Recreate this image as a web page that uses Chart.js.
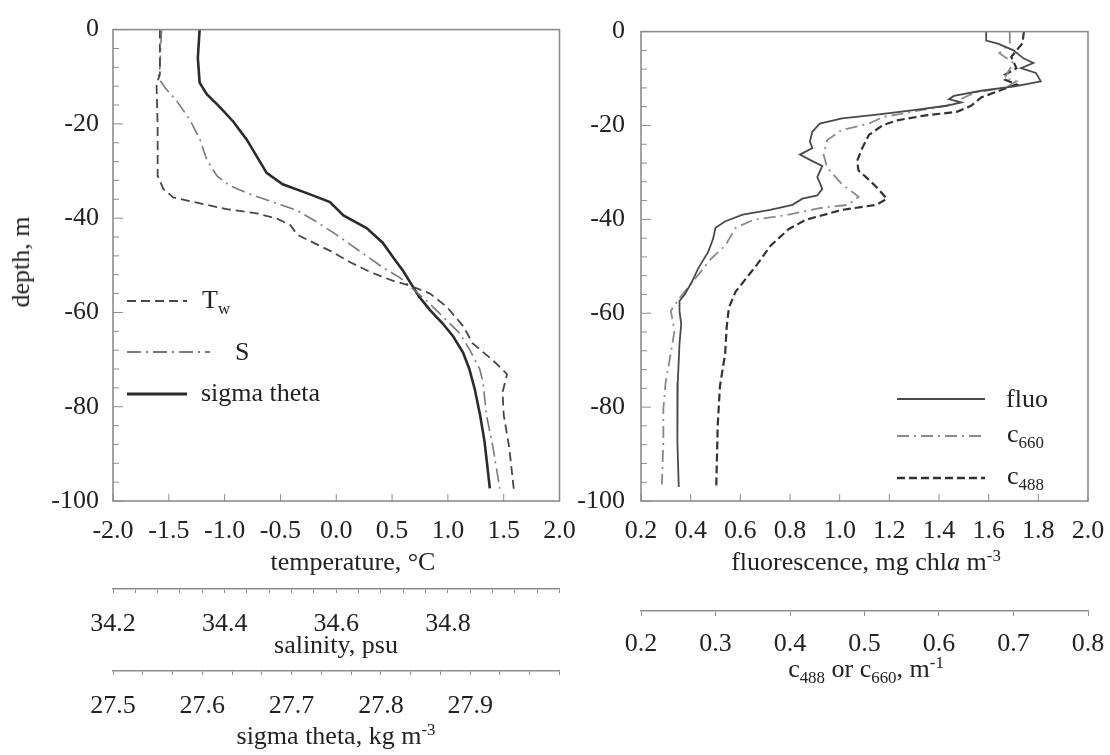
<!DOCTYPE html>
<html>
<head>
<meta charset="utf-8">
<script src="https://cdn.jsdelivr.net/npm/chart.js@4.4.1/dist/chart.umd.min.js"></script>
<style>
  html, body { margin: 0; padding: 0; background: #fff; }
  #wrap { position: relative; width: 1110px; height: 755px; overflow: hidden; }
  canvas { position: absolute; top: 0; }
  #left { left: 0; }
  #right { left: 560px; }
  .lbl { position: absolute; font: 26px 'Liberation Serif', 'Times New Roman', serif; color: #222;
         line-height: 26px; white-space: nowrap; transform: translateY(-50%); }
  .c { transform: translate(-50%, -50%); }
  .v { transform: translate(-50%, -50%) rotate(-90deg); }
  .lbl sub { font-size: 0.65em; vertical-align: -0.35em; line-height: 0; }
  .lbl sup { font-size: 0.65em; vertical-align: 0.55em; line-height: 0; }
</style>
</head>
<body>
<div id="wrap">
  <canvas id="left" width="600" height="755"></canvas>
  <canvas id="right" width="620" height="755"></canvas>

  <div class="lbl v" style="left:21px; top:262px;">depth, m</div>

  <div class="lbl c" style="left:353px; top:562px;">temperature, °C</div>
  <div class="lbl c" style="left:336px; top:645px;">salinity, psu</div>
  <div class="lbl c" style="left:336px; top:736px;">sigma theta, kg m<sup>-3</sup></div>
  <div class="lbl c" style="left:866px; top:562px;">fluorescence, mg chl<i>a</i> m<sup>-3</sup></div>
  <div class="lbl c" style="left:866px; top:669px;">c<sub>488</sub> or c<sub>660</sub>, m<sup>-1</sup></div>

  <div class="lbl" style="left:202px; top:300px;">T<sub>w</sub></div>
  <div class="lbl" style="left:235px; top:352px;">S</div>
  <div class="lbl" style="left:201px; top:393px;">sigma theta</div>

  <div class="lbl" style="left:1006px; top:399px;">fluo</div>
  <div class="lbl" style="left:1007px; top:434px;">c<sub>660</sub></div>
  <div class="lbl" style="left:1007px; top:476px;">c<sub>488</sub></div>
</div>
<script>
const FONT = "'Liberation Serif', 'Times New Roman', serif";
const INK = '#222222';
const FRAME = '#8c8c8c';

// tick labels
const depthTicks = [-100, -80, -60, -40, -20, 0];
const tempTicks = [-2.0, -1.5, -1.0, -0.5, 0.0, 0.5, 1.0, 1.5, 2.0];
const salLabels = [34.2, 34.4, 34.6, 34.8];
const sigLabels = [27.5, 27.6, 27.7, 27.8, 27.9];
const fluoTicks = [0.2, 0.4, 0.6, 0.8, 1.0, 1.2, 1.4, 1.6, 1.8, 2.0];
const cTicks = [0.2, 0.3, 0.4, 0.5, 0.6, 0.7, 0.8];

// left panel: water temperature (degC)
const twDepth = [0, -9.5, -11.6, -20.6, -31, -33.8, -35.6, -36.7, -38.1, -39.0, -40.1, -41.5, -43.5, -44.9,
  -47.0, -49.4, -51.5, -53.3, -54.3, -56.0, -58.8, -63.0, -66.5, -70.3, -73.1, -76.9, -81.7, -88.7, -97.4];
const twTemp = [-1.58, -1.58, -1.61, -1.60, -1.60, -1.55, -1.46, -1.25, -0.98, -0.71, -0.53, -0.41, -0.35, -0.23,
  -0.05, 0.13, 0.31, 0.51, 0.66, 0.84, 0.99, 1.14, 1.22, 1.41, 1.53, 1.49, 1.50, 1.55, 1.59];

// salinity (psu)
const salDepth = [0, -8.1, -10.2, -12.3, -15.1, -19.2, -23.4, -27.6, -31.0, -33.1, -34.9, -36.6, -38.3, -40.8,
  -43.5, -47.0, -50.5, -52.6, -55.7, -58.1, -60.9, -64.4, -67.9, -72.0, -74.8, -81.7, -88.7, -97.4];
const salValue = [34.287, 34.284, 34.281, 34.293, 34.314, 34.338, 34.356, 34.368, 34.386, 34.409, 34.445, 34.487,
  34.529, 34.565, 34.600, 34.642, 34.684, 34.714, 34.744, 34.767, 34.791, 34.821, 34.839, 34.857, 34.863,
  34.869, 34.881, 34.893];

// sigma theta (kg m-3)
const sigDepth = [0, -6, -11.25, -13.7, -16.5, -19.6, -23.4, -26.9, -30.4, -32.8, -34.9, -36.6, -39.4, -42.1,
  -45.2, -48.4, -51.2, -54.0, -56.7, -59.5, -62.3, -65.1, -68.5, -72.0, -76.2, -81.7, -87.3, -97.3];
const sigValue = [27.597, 27.595, 27.597, 27.605, 27.620, 27.635, 27.650, 27.661, 27.672, 27.690, 27.720, 27.743,
  27.758, 27.784, 27.802, 27.814, 27.825, 27.834, 27.843, 27.855, 27.869, 27.881, 27.892, 27.899, 27.905,
  27.911, 27.916, 27.922];

// right panel: fluorescence (mg chla m-3)
const fluoDepth = [0, -1.9, -2.6, -4.0, -5.7, -6.7, -7.8, -8.8, -10.6, -11.6, -12.6, -13.7, -14.4, -15.1, -15.8,
  -16.8, -17.7, -18.5, -19.6, -21.3, -23.4, -24.8, -26.2, -27.6, -28.6, -31.0, -33.5, -34.9, -35.6, -36.9,
  -38.0, -39.0, -40.4, -41.8, -44.2, -47.0, -50.5, -53.3, -56.0, -57.4, -59.5, -62.3, -66.5, -74.8, -80.4,
  -87.3, -97.0];
const fluoValue = [1.59, 1.59, 1.64, 1.70, 1.74, 1.78, 1.73, 1.79, 1.81, 1.71, 1.57, 1.46, 1.44, 1.49, 1.43,
  1.29, 1.15, 1.01, 0.92, 0.89, 0.88, 0.89, 0.84, 0.89, 0.93, 0.91, 0.93, 0.91, 0.85, 0.81,
  0.72, 0.61, 0.54, 0.50, 0.49, 0.47, 0.43, 0.405, 0.376, 0.355, 0.355, 0.362, 0.355, 0.348, 0.348,
  0.345, 0.352];

// beam attenuation c660 (m-1)
const c660Depth = [0, -2.5, -4.6, -6.7, -8.5, -9.9, -10.6, -11.9, -13.0, -14.4, -15.8, -17.1, -18.2, -19.6,
  -21.0, -23.1, -26.2, -29.0, -32.4, -35.2, -36.9, -37.6, -39.0, -40.1, -41.8, -45.6, -48.4, -51.2, -54.0,
  -56.7, -59.5, -63.7, -68.5, -74.8, -80.4, -87.3, -96.5];
const c660Value = [0.695, 0.695, 0.681, 0.700, 0.693, 0.688, 0.704, 0.690, 0.648, 0.629, 0.610, 0.563, 0.525,
  0.506, 0.469, 0.450, 0.445, 0.450, 0.469, 0.492, 0.478, 0.440, 0.398, 0.351, 0.327, 0.313, 0.294, 0.280,
  0.266, 0.252, 0.240, 0.245, 0.240, 0.233, 0.230, 0.230, 0.228];

// beam attenuation c488 (m-1)
const c488Depth = [0, -2.5, -5.35, -7.8, -9.2, -10.2, -11.25, -12.3, -14.0, -15.8, -17.1, -17.85, -18.9, -19.9,
  -22.0, -24.8, -27.6, -29.6, -31.0, -33.1, -35.6, -36.9, -38.0, -40.1, -42.1, -45.6, -49.8, -52.6, -55.4,
  -58.8, -63.0, -68.5, -75.5, -83.8, -97.0];
const c488Value = [0.714, 0.712, 0.697, 0.704, 0.688, 0.688, 0.704, 0.686, 0.657, 0.643, 0.624, 0.582, 0.544,
  0.525, 0.506, 0.497, 0.490, 0.492, 0.502, 0.516, 0.530, 0.516, 0.469, 0.421, 0.398, 0.374, 0.355, 0.341,
  0.327, 0.318, 0.315, 0.313, 0.306, 0.303, 0.301];

function pairs(xs, ys) {
  return xs.map((v, i) => ({ x: v, y: ys[i] }));
}

function setTicks(values) {
  return scale => { scale.ticks = values.map(v => ({ value: v })); };
}

function minorRange(from, step, count) {
  return Array.from({ length: count }, (_, i) => from + i * step);
}

function labelIf(list) {
  return v => {
    const hit = list.find(l => Math.abs(l - v) < 1e-6);
    return hit === undefined ? '' : hit.toFixed(1);
  };
}

const tickFont = { family: FONT, size: 26 };

// frame around the plot and tick marks pointing inwards
const frameTicks = {
  id: 'frameTicks',
  afterDraw(chart, args, opts) {
    const { ctx, chartArea: a, scales } = chart;
    ctx.save();
    ctx.strokeStyle = FRAME;
    ctx.lineWidth = 1;
    ctx.beginPath();
    for (let d = -100; d <= 0; d += 4) {
      const py = scales.y.getPixelForValue(d);
      const len = d % 20 === 0 ? 10 : 6;
      ctx.moveTo(a.left, py);
      ctx.lineTo(a.left + len, py);
    }
    opts.xTicks.forEach(v => {
      const px = scales.x.getPixelForValue(v);
      ctx.moveTo(px, a.bottom);
      ctx.lineTo(px, a.bottom - 7);
    });
    ctx.stroke();
    ctx.lineWidth = 1.6;
    ctx.strokeRect(a.left, a.top, a.width, a.height);
    ctx.restore();
  }
};

// line samples for the legends, styled like their datasets
const legendLines = {
  id: 'legendLines',
  afterDraw(chart, args, opts) {
    const ctx = chart.ctx;
    opts.items.forEach(it => {
      const ds = chart.data.datasets[it.ds];
      ctx.save();
      ctx.strokeStyle = ds.borderColor;
      ctx.lineWidth = ds.borderWidth + 0.4;
      ctx.setLineDash(ds.borderDash || []);
      ctx.beginPath();
      ctx.moveTo(it.x0, it.y);
      ctx.lineTo(it.x1, it.y);
      ctx.stroke();
      ctx.restore();
    });
  }
};

function mainX(min, max, ticks, height) {
  return {
    type: 'linear', position: 'bottom', weight: 0, min, max,
    afterBuildTicks: setTicks(ticks),
    afterFit: s => { s.height = height; },
    grid: { display: false, drawTicks: false, tickLength: 0 },
    border: { display: false },
    ticks: { font: tickFont, color: INK, padding: 15, autoSkip: false, maxRotation: 0, minRotation: 0,
      callback: v => v.toFixed(1) }
  };
}

function extraX(min, max, ticks, labels, weight, height, tickLength, padding) {
  return {
    type: 'linear', position: 'bottom', weight, min, max,
    afterBuildTicks: setTicks(ticks),
    afterFit: s => { s.height = height; },
    grid: { display: true, drawOnChartArea: false, drawTicks: true, tickLength, color: FRAME, lineWidth: 1 },
    border: { display: true, color: FRAME, width: 1.6 },
    ticks: { font: tickFont, color: INK, padding, autoSkip: false, maxRotation: 0, minRotation: 0,
      callback: labelIf(labels) }
  };
}

function depthY(width, padding) {
  return {
    type: 'linear', min: -100, max: 0,
    afterBuildTicks: setTicks(depthTicks),
    afterFit: s => { s.width = width; },
    grid: { display: false, drawTicks: false, tickLength: 0 },
    border: { display: false },
    ticks: { font: tickFont, color: INK, padding, callback: v => String(v) }
  };
}

const lineBase = { showLine: true, pointRadius: 0, pointHoverRadius: 0, fill: false, tension: 0, yAxisID: 'y' };

new Chart(document.getElementById('left'), {
  type: 'scatter',
  data: {
    datasets: [
      Object.assign({ label: 'Tw', data: pairs(twTemp, twDepth), xAxisID: 'x',
        borderColor: '#474747', borderWidth: 1.8, borderDash: [9, 5] }, lineBase),
      Object.assign({ label: 'S', data: pairs(salValue, salDepth), xAxisID: 'sal',
        borderColor: '#7a7a7a', borderWidth: 1.6, borderDash: [14, 5, 2, 5] }, lineBase),
      Object.assign({ label: 'sigma theta', data: pairs(sigValue, sigDepth), xAxisID: 'sig',
        borderColor: '#2b2b2b', borderWidth: 2.6, borderDash: [] }, lineBase)
    ]
  },
  options: {
    responsive: false,
    animation: false,
    events: [],
    layout: { padding: { left: 0, top: 21, right: 40.5, bottom: 0 } },
    plugins: {
      legend: { display: false },
      tooltip: { enabled: false },
      frameTicks: { xTicks: tempTicks },
      legendLines: { items: [
        { ds: 0, x0: 127, x1: 187, y: 301 },
        { ds: 1, x0: 127, x1: 210, y: 352 },
        { ds: 2, x0: 127, x1: 187, y: 394 }
      ] }
    },
    scales: {
      x: mainX(-2, 2, tempTicks, 88),
      sal: extraX(34.2, 35.0, minorRange(34.2, 0.04, 21), salLabels, 1, 82, 4, 16),
      sig: extraX(27.5, 28.0, minorRange(27.5, 0.1 / 3, 16), sigLabels, 2, 84, 4, 16),
      y: depthY(113, 14)
    }
  },
  plugins: [frameTicks, legendLines]
});

new Chart(document.getElementById('right'), {
  type: 'scatter',
  data: {
    datasets: [
      Object.assign({ label: 'fluo', data: pairs(fluoValue, fluoDepth), xAxisID: 'x',
        borderColor: '#4a4a4a', borderWidth: 1.8, borderDash: [] }, lineBase),
      Object.assign({ label: 'c660', data: pairs(c660Value, c660Depth), xAxisID: 'c',
        borderColor: '#8a8a8a', borderWidth: 1.8, borderDash: [12, 5, 2, 5] }, lineBase),
      Object.assign({ label: 'c488', data: pairs(c488Value, c488Depth), xAxisID: 'c',
        borderColor: '#333333', borderWidth: 2.2, borderDash: [8, 4] }, lineBase)
    ]
  },
  options: {
    responsive: false,
    animation: false,
    events: [],
    layout: { padding: { left: 0, top: 21, right: 92, bottom: 0 } },
    plugins: {
      legend: { display: false },
      tooltip: { enabled: false },
      frameTicks: { xTicks: fluoTicks },
      legendLines: { items: [
        { ds: 0, x0: 337, x1: 425, y: 399 },
        { ds: 1, x0: 337, x1: 425, y: 436 },
        { ds: 2, x0: 337, x1: 425, y: 478 }
      ] }
    },
    scales: {
      x: mainX(0.2, 2.0, fluoTicks, 110),
      c: extraX(0.2, 0.8, cTicks, cTicks, 1, 144, 5, 13),
      y: depthY(81, 16)
    }
  },
  plugins: [frameTicks, legendLines]
});
</script>
</body>
</html>
